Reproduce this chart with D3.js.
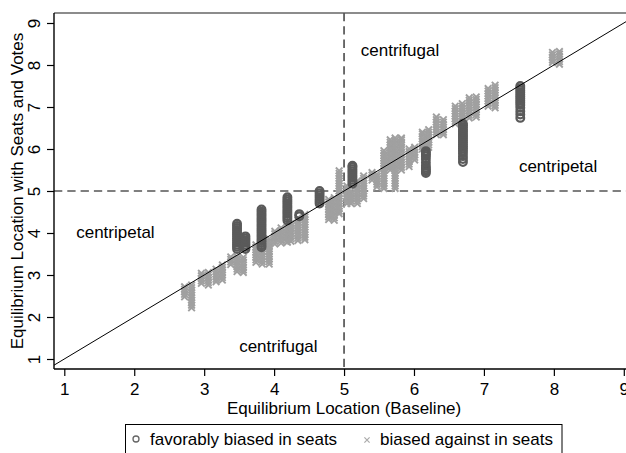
<!DOCTYPE html>
<html><head><meta charset="utf-8">
<script src="https://cdn.jsdelivr.net/npm/d3@7"></script>
<style>body{margin:0;background:#fff} text{font-family:"Liberation Sans",Arial,sans-serif;font-size:17px;fill:#000}</style>
</head><body><svg id="c" width="626" height="453"></svg>
<script>
// ---- data ----
const xTicks = [1,2,3,4,5,6,7,8,9];
const yTicks = [1,2,3,4,5,6,7,8,9];
const favX = [3.47, 3.59, 3.82, 4.19, 4.36, 4.65, 5.12, 6.17, 6.70, 7.52];
const favY = [
 [3.62,3.67,3.72,3.77,3.82,3.87,3.92,3.97,4.02,4.07,4.12,4.17,4.22],
 [3.62,3.67,3.72,3.77,3.82,3.87,3.92],
 [3.66,3.71,3.76,3.81,3.86,3.91,3.96,4.01,4.06,4.11,4.16,4.21,4.26,4.31,4.36,4.41,4.46,4.51,4.56],
 [4.30,4.35,4.40,4.45,4.50,4.55,4.60,4.65,4.70,4.75,4.80,4.85],
 [4.40,4.45],
 [4.70,4.75,4.80,4.85,4.90,4.95,5.00],
 [5.17,5.22,5.27,5.32,5.37,5.42,5.47,5.52,5.57,5.60],
 [5.43,5.47,5.51,5.55,5.60,5.68,5.76,5.83,5.87,5.91,5.95],
 [5.69,5.76,5.83,5.90,5.96,6.01,6.06,6.11,6.16,6.21,6.26,6.31,6.36,6.41,6.46,6.51,6.56,6.60],
 [6.74,6.82,6.90,6.98,7.05,7.10,7.15,7.20,7.25,7.30,7.35,7.40,7.45,7.50]
];
const agX = [2.72, 2.82, 2.96, 3.06, 3.17, 3.26, 3.38, 3.47, 3.56, 3.74, 3.83, 3.93,
  4.01, 4.10, 4.19, 4.24, 4.34, 4.44, 4.78, 4.86, 4.93, 5.04, 5.10, 5.19, 5.28, 5.40,
  5.47, 5.57, 5.66, 5.73, 5.82, 5.93, 6.01, 6.12, 6.21, 6.32, 6.42, 6.59, 6.69, 6.79,
  6.89, 7.06, 7.16, 7.98, 8.08];
const agY = [
 [2.48,2.54,2.60,2.66,2.72],
 [2.22,2.28,2.34,2.40,2.46,2.52,2.58,2.64,2.70,2.76],
 [2.80,2.86,2.92,2.98,3.04],
 [2.76,2.82,2.88,2.94,3.00,3.06],
 [2.84,2.90,2.96,3.02,3.08,3.14],
 [2.88,2.94,3.00,3.06,3.12,3.18,3.24],
 [3.25,3.31,3.37,3.43],
 [3.08,3.14,3.20,3.26,3.32,3.38,3.44],
 [3.06,3.12,3.18,3.24,3.30,3.36,3.42],
 [3.30,3.36,3.42,3.48,3.54,3.60,3.66,3.72],
 [3.26,3.32,3.38,3.44,3.50,3.56,3.62,3.68,3.74,3.80],
 [3.26,3.32,3.38,3.44,3.50,3.56,3.62,3.68,3.74,3.80,3.86],
 [3.74,3.80,3.86,3.92,3.98,4.04],
 [3.76,3.82,3.88,3.94,4.00,4.06,4.12],
 [3.78,3.84,3.90,3.96,4.02,4.08,4.14],
 [3.80,3.86,3.92,3.98,4.04,4.10,4.16,4.22],
 [3.82,3.88,3.94,4.00,4.06,4.12,4.18,4.24,4.30,4.36],
 [3.84,3.90,3.96,4.02,4.08,4.14,4.20,4.26,4.32,4.38,4.44],
 [4.32,4.38,4.44,4.50,4.56,4.62,4.68,4.74,4.80],
 [4.30,4.36,4.42,4.48,4.54,4.60,4.66,4.72,4.78,4.84],
 [4.46,4.52,4.58,4.64,4.70,4.76,4.82,4.88,4.94,5.00,5.06,5.12,5.18,5.24,5.30,5.36,5.42,5.48],
 [4.70,4.76,4.82,4.88,4.94,5.00,5.06,5.12],
 [4.70,4.76,4.82,4.88,4.94,5.00],
 [4.70,4.76,4.82,4.88,4.94,5.00,5.06,5.12,5.18,5.24],
 [4.82,4.88,4.94,5.00,5.06,5.12,5.18,5.24,5.30,5.36],
 [5.26,5.32,5.38,5.44],
 [5.10,5.16,5.22,5.28,5.34,5.40],
 [5.06,5.12,5.18,5.24,5.30,5.36,5.42,5.48,5.54,5.60,5.66,5.72,5.78,5.84,5.90,5.96],
 [5.50,5.56,5.62,5.68,5.74,5.80,5.86,5.92,5.98,6.04,6.10,6.16,6.22],
 [5.06,5.12,5.18,5.24,5.30,5.36,5.42,5.48,5.54,5.60,5.66,5.72,5.78,5.84,5.90,5.96,6.02,6.08,6.14,6.20,6.26],
 [5.50,5.56,5.62,5.68,5.74,5.80,5.86,5.92,5.98,6.04,6.10,6.16,6.22,6.26],
 [5.58,5.64,5.70,5.76,5.82,5.88,5.94,6.00],
 [5.74,5.80,5.86,5.92,5.98,6.04],
 [6.00,6.06,6.12,6.18,6.24,6.30,6.36,6.40],
 [6.04,6.10,6.16,6.22,6.28,6.34,6.40,6.46],
 [6.34,6.40,6.46,6.52,6.58,6.64,6.70,6.76],
 [6.34,6.40,6.46,6.52,6.58,6.64,6.70],
 [6.60,6.66,6.72,6.78,6.84,6.90,6.96,7.02],
 [6.60,6.66,6.72,6.78,6.84,6.90,6.96,7.02,7.08],
 [6.74,6.80,6.86,6.92,6.98,7.04,7.10,7.16,7.22],
 [6.76,6.82,6.88,6.94,7.00,7.06,7.12,7.18,7.24],
 [7.02,7.08,7.14,7.20,7.26,7.32,7.38,7.44],
 [6.98,7.04,7.10,7.16,7.22,7.28,7.34,7.40,7.46,7.52],
 [8.06,8.12,8.18,8.24,8.30],
 [8.02,8.08,8.14,8.20,8.26,8.32]
];
const refLine = [0, 10];           // 45-degree line y = x
const cutoff = 5;                  // dashed reference lines
const notes = [
  {text:"centrifugal", x:5.24, y:8.21},
  {text:"centripetal", x:7.50, y:5.45},
  {text:"centripetal", x:1.17, y:3.88},
  {text:"centrifugal", x:3.50, y:1.17}
];
const legendLabels = ["favorably biased in seats", "biased against in seats"];
const xTitle = "Equilibrium Location (Baseline)";
const yTitle = "Equilibrium Location with Seats and Votes";

// ---- drawing ----
const FONT = '"Liberation Sans",Arial,sans-serif';
const svg = d3.select("#c");
const x = d3.scaleLinear().domain([1,9]).range([64.3,623.8]);
const y = d3.scaleLinear().domain([1,9]).range([359,23]);
const L = 54, T = 13, B = 369, R = 640;

svg.append("rect").attr("width",626).attr("height",453).attr("fill","#fff");
svg.append("defs").append("clipPath").attr("id","clip")
  .append("rect").attr("x",L).attr("y",T).attr("width",R-L).attr("height",B-T);

// top frame line
svg.append("line").attr("x1",L).attr("x2",R).attr("y1",T).attr("y2",T)
  .attr("stroke","#666").attr("stroke-width",1.6);

const plot = svg.append("g").attr("clip-path","url(#clip)");

// dashed lines
plot.append("line").attr("x1",L).attr("x2",R).attr("y1",y(cutoff)).attr("y2",y(cutoff))
  .attr("stroke","#555").attr("stroke-width",1.7).attr("stroke-dasharray","8.3,5");
plot.append("line").attr("x1",x(cutoff)).attr("x2",x(cutoff)).attr("y1",T).attr("y2",B)
  .attr("stroke","#555").attr("stroke-width",1.7).attr("stroke-dasharray","8.3,5");

// against points (x markers)
const agPts = [];
agX.forEach((xv,i)=>agY[i].forEach(yv=>agPts.push([xv,yv])));
const xs = 3.3;
plot.append("g").selectAll("path").data(agPts).join("path")
  .attr("transform",d=>`translate(${x(d[0])},${y(d[1])})`)
  .attr("d",`M${-xs},${-xs}L${xs},${xs}M${-xs},${xs}L${xs},${-xs}`)
  .attr("stroke","#a0a0a0").attr("stroke-width",1.9).attr("fill","none");

// favorable points (hollow circles)
const favPts = [];
favX.forEach((xv,i)=>favY[i].forEach(yv=>favPts.push([xv,yv])));
plot.append("g").selectAll("circle").data(favPts).join("circle")
  .attr("cx",d=>x(d[0])).attr("cy",d=>y(d[1])).attr("r",3.8)
  .attr("fill","none").attr("stroke","#5a5a5a").attr("stroke-width",2.3);

// 45 degree line
plot.append("line").attr("x1",x(refLine[0])).attr("y1",y(refLine[0]))
  .attr("x2",x(refLine[1])).attr("y2",y(refLine[1]))
  .attr("stroke","#000").attr("stroke-width",1);

// annotations
svg.append("g").selectAll("text").data(notes).join("text")
  .attr("x",d=>x(d.x)).attr("y",d=>y(d.y)).text(d=>d.text);

// axes
const xa = svg.append("g").attr("transform",`translate(0,${B})`)
  .call(d3.axisBottom(x).tickValues(xTicks).tickSize(7).tickSizeOuter(0).tickPadding(7));
xa.select(".domain").remove();
xa.selectAll("line").attr("stroke","#000").attr("stroke-width",1.2);
xa.selectAll("text").style("font-size","17px").attr("fill","#000").style("font-family",FONT);
svg.append("line").attr("x1",L).attr("x2",R).attr("y1",B).attr("y2",B).attr("stroke","#000").attr("stroke-width",1.4);

const ya = svg.append("g").attr("transform",`translate(${L},0)`)
  .call(d3.axisLeft(y).tickValues(yTicks).tickSize(7).tickSizeOuter(0));
ya.select(".domain").remove();
ya.selectAll("line").attr("stroke","#000").attr("stroke-width",1.2);
ya.selectAll("text").attr("x",0).attr("y",-14).attr("dy",0)
  .attr("transform","rotate(-90)").attr("text-anchor","middle")
  .style("font-size","17px").attr("fill","#000").style("font-family",FONT);
svg.append("line").attr("x1",L).attr("x2",L).attr("y1",T).attr("y2",B).attr("stroke","#000").attr("stroke-width",1.4);

// titles
svg.append("text").attr("x",x(5)).attr("y",414).attr("text-anchor","middle").text(xTitle);
svg.append("text").attr("transform",`translate(23,${(T+B)/2}) rotate(-90)`)
  .attr("text-anchor","middle").text(yTitle);

// legend
const lg = svg.append("g");
lg.append("rect").attr("x",125.5).attr("y",424.5).attr("width",436.5).attr("height",40)
  .attr("fill","#fff").attr("stroke","#000").attr("stroke-width",1);
lg.append("circle").attr("cx",136).attr("cy",439).attr("r",3)
  .attr("fill","none").attr("stroke","#666").attr("stroke-width",1.3);
lg.append("text").attr("x",150).attr("y",445).text(legendLabels[0]);
lg.append("path").attr("transform","translate(367,440)")
  .attr("d","M-2.6,-2.6L2.6,2.6M-2.6,2.6L2.6,-2.6").attr("stroke","#aaa").attr("stroke-width",1.2);
lg.append("text").attr("x",380).attr("y",445).text(legendLabels[1]);
</script></body></html>
